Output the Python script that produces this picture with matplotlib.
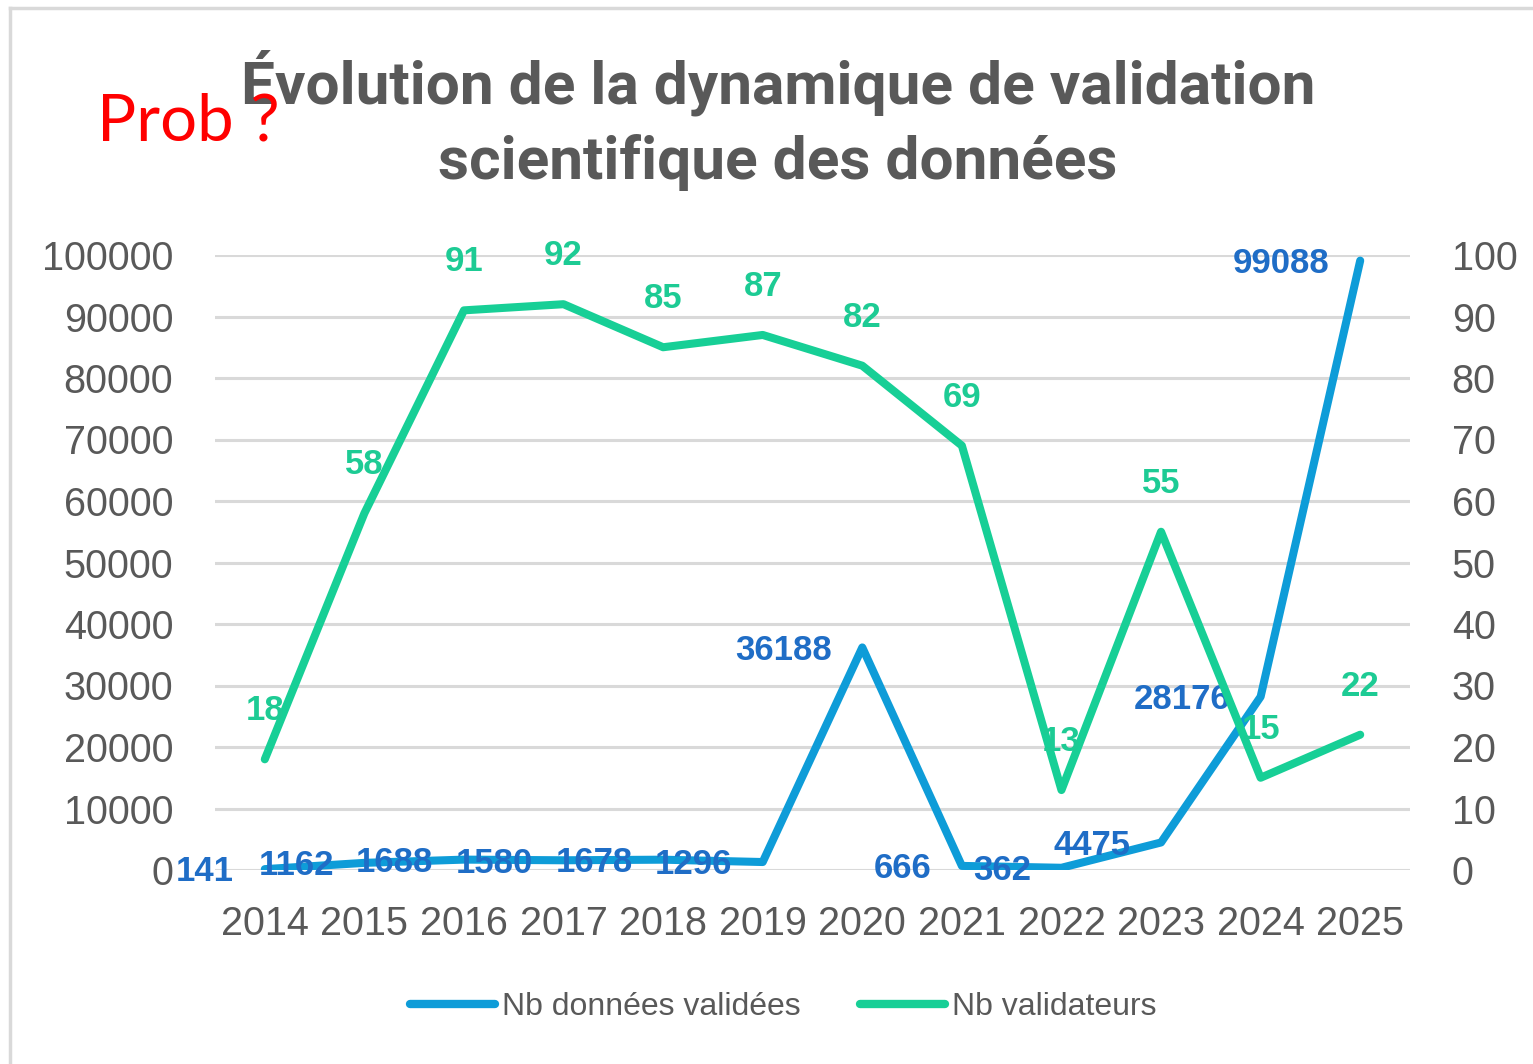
import matplotlib.pyplot as plt
import numpy as np
from matplotlib.lines import Line2D

# données
annees = ["2014", "2015", "2016", "2017", "2018", "2019",
          "2020", "2021", "2022", "2023", "2024", "2025"]
nb_donnees = [141, 1162, 1688, 1580, 1678, 1296, 36188, 666, 362, 4475, 28176, 99088]
nb_validateurs = [18, 58, 91, 92, 85, 87, 82, 69, 13, 55, 15, 22]

BLEU = "#0E9CD8"
BLEU_TXT = "#1F6DC6"
VERT = "#17CF96"
VERT_TXT = "#1DCB94"
GRIS = "#595959"

fig = plt.figure(figsize=(15.33, 10.64), dpi=100)
ax = fig.add_axes([215/1533, 1-870/1064, 1195/1533, 615/1064])
ax2 = ax.twinx()

x = np.arange(len(annees))

ax.plot(x, nb_donnees, color=BLEU, lw=5.8, solid_capstyle="round", zorder=3)
ax2.plot(x, nb_validateurs, color=VERT, lw=5.8, solid_capstyle="round", zorder=3)

ax.set_xlim(-0.5, len(annees) - 0.5)
ax.set_ylim(0, 100000)
ax2.set_ylim(0, 100)
ax.set_yticks(np.arange(0, 100001, 10000))
ax2.set_yticks(np.arange(0, 101, 10))
ax.set_xticks(x)
ax.set_xticklabels(annees)

ax.grid(axis="y", color="#D9D9D9", lw=2.2, zorder=0)
ax.set_axisbelow(True)
for a in (ax, ax2):
    for s in a.spines.values():
        s.set_visible(False)
    a.tick_params(length=0, labelsize=28.5, labelcolor=GRIS)
    for lab in a.get_xticklabels() + a.get_yticklabels():
        lab.set_family("Liberation Sans")
ax.tick_params(axis="y", pad=30)
ax2.tick_params(axis="y", pad=30)
ax.tick_params(axis="x", pad=25)

# étiquettes de données
for xi, v in zip(x, nb_donnees):
    ax.annotate(str(v), (xi, v), xytext=(-22, -2), textcoords="offset points",
                ha="right", va="center", color=BLEU_TXT, fontsize=25,
                fontweight="bold", family="Liberation Sans", zorder=5)
for xi, v in zip(x, nb_validateurs):
    ax2.annotate(str(v), (xi, v), xytext=(0, 35), textcoords="offset points",
                 ha="center", va="center", color=VERT_TXT, fontsize=25,
                 fontweight="bold", family="Liberation Sans", zorder=5)

fig.text(778/1533, 1-120/1064,
         "Évolution de la dynamique de validation\nscientifique des données",
         ha="center", va="center", fontsize=43.5, fontweight="bold",
         color=GRIS, family="Roboto", linespacing=1.4)

fig.text(97/1533, 1-122/1064, "Prob ?", ha="left", va="center",
         fontsize=47, color="red", family="Lato")

poignees = [Line2D([], [], color=BLEU, lw=6, solid_capstyle="round"),
            Line2D([], [], color=VERT, lw=6, solid_capstyle="round")]
fig.legend(poignees, ["Nb données validées", "Nb validateurs"],
           loc="center", bbox_to_anchor=(783/1533, 1-1007/1064), ncol=2,
           frameon=False, labelcolor=GRIS,
           prop={"family": "Liberation Sans", "size": 23},
           handlelength=2.66, handletextpad=0.22, columnspacing=1.87)

# cadre gris clair
fig.add_artist(Line2D([10/1533, 10/1533], [0, 1-8/1064], color="#D9D9D9", lw=2.5,
                      transform=fig.transFigure))
fig.add_artist(Line2D([10/1533, 1], [1-8/1064, 1-8/1064], color="#D9D9D9", lw=2.5,
                      transform=fig.transFigure))

fig.savefig("out.png", dpi=100)
